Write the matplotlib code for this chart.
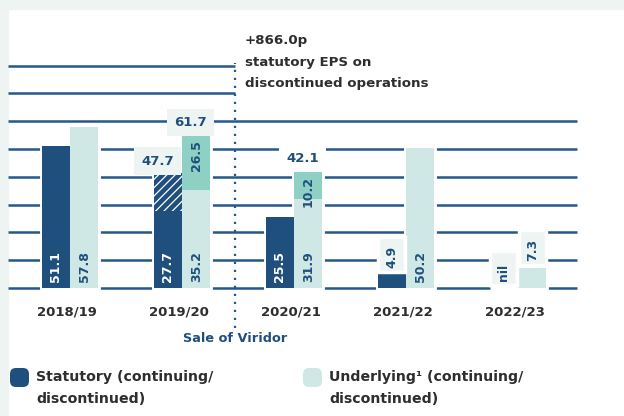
import matplotlib
matplotlib.use("Agg")
import matplotlib.pyplot as plt
from matplotlib.patches import Rectangle, FancyBboxPatch

# data
years = ["2018/19", "2019/20", "2020/21", "2021/22", "2022/23"]
statutory = [51.1, 27.7, 25.5, 4.9, 0.0]
statutory_disc = [0.0, 13.7, 0.0, 0.0, 0.0]      # hatched part, as drawn
underlying = [57.8, 35.2, 31.9, 50.2, 7.3]
underlying_disc = [0.0, 19.8, 10.2, 0.0, 0.0]    # teal part, as drawn
statutory_labels = ["51.1", "27.7", "25.5", "4.9", "nil"]
underlying_labels = ["57.8", "35.2", "31.9", "50.2", "7.3"]
underlying_disc_labels = ["", "26.5", "10.2", "", ""]
total_stat_labels = ["", "47.7", "", "", ""]
total_und_labels = ["", "61.7", "42.1", "", ""]
grid_levels = [0, 10, 20, 30, 40, 50, 60, 70, 80]

DARK = "#1f4f7c"
LIGHT = "#cfe8e5"
TEAL = "#8fd0c4"
BOXBG = "#eef4f1"
GRID = "#24588a"
TXT = "#2e2e2e"

plt.rcParams["font.family"] = "DejaVu Sans"
plt.rcParams["hatch.linewidth"] = 0.9

fig = plt.figure(figsize=(6.24, 4.16), dpi=100)
fig.patch.set_facecolor("white")
fig.patches.append(Rectangle((0, 407 / 416), 1, 9 / 416, transform=fig.transFigure,
                             color=BOXBG, zorder=-5))
fig.patches.append(Rectangle((0, 0), 8 / 624, 1, transform=fig.transFigure,
                             color=BOXBG, zorder=-5))

ax = fig.add_axes([0, 0, 1, 1])
ax.set_xlim(-0.625, 4.946)
ax.set_ylim(-46.0, 103.6)
ax.axis("off")

x_left, x_right, x_div = -0.554, 4.527, 1.473
for lv in grid_levels:
    end = x_right if lv <= 60 else x_div
    ax.hlines(lv, x_left, end, color=GRID, lw=1.8, zorder=1)

ax.vlines(x_div, -14.4, 80.9, color=GRID, lw=1.6, linestyles=(0, (1, 2.6)), zorder=1)

w = 0.254
xs = list(range(len(years)))
xs_s = [x - w / 2 for x in xs]
xs_u = [x + w / 2 for x in xs]

st_tot = [a + b for a, b in zip(statutory, statutory_disc)]
un_tot = [a + b for a, b in zip(underlying, underlying_disc)]

# white halos to break the gridlines around bars
ax.bar(xs_s, st_tot, w, color="white", edgecolor="white", lw=3.5, zorder=2)
ax.bar(xs_u, un_tot, w, color="white", edgecolor="white", lw=3.5, zorder=2)

ax.bar(xs_s, statutory, w, color=DARK, lw=0, zorder=3)
ax.bar(xs_s, statutory_disc, w, bottom=statutory, color=DARK, edgecolor="white",
       hatch="////", lw=0, zorder=3)
ax.bar(xs_u, underlying, w, color=LIGHT, lw=0, zorder=3)
ax.bar(xs_u, underlying_disc, w, bottom=underlying, color=TEAL, lw=0, zorder=3)

fs = 9


def small_label(xc, top, text):
    # label sitting in a pale box above a short bar
    b0 = top + 1.0
    h = 12.5
    ax.add_patch(Rectangle((xc - w * 0.47, b0), w * 0.94, h, fc=BOXBG, ec="white",
                           lw=2.5, zorder=4))
    ax.text(xc, b0 + 1.4, text, rotation=90, ha="center", va="bottom", color=DARK,
            fontsize=fs, fontweight="bold", zorder=5)


for i in xs:
    if statutory[i] > 15:
        ax.text(xs_s[i], 2.2, statutory_labels[i], rotation=90, ha="center", va="bottom",
                color="white", fontsize=fs, fontweight="bold", zorder=5)
    else:
        small_label(xs_s[i], st_tot[i], statutory_labels[i])
    if underlying[i] > 15:
        ax.text(xs_u[i], 2.2, underlying_labels[i], rotation=90, ha="center", va="bottom",
                color=DARK, fontsize=fs, fontweight="bold", zorder=5)
    else:
        small_label(xs_u[i], un_tot[i], underlying_labels[i])
    if underlying_disc_labels[i]:
        ax.text(xs_u[i], un_tot[i] - 1.8, underlying_disc_labels[i], rotation=90,
                ha="center", va="top", color=DARK, fontsize=fs, fontweight="bold", zorder=5)
    if total_stat_labels[i]:
        ax.text(xs_s[i] - 0.09, st_tot[i] + 4.3, total_stat_labels[i], ha="center",
                va="center", color=DARK, fontsize=fs + 0.5, fontweight="bold", zorder=5,
                bbox=dict(boxstyle="square,pad=0.55", fc=BOXBG, ec="none"))
    if total_und_labels[i]:
        fc = BOXBG if i == 1 else "white"
        ax.text(xs_u[i] - 0.05, un_tot[i] + 4.5, total_und_labels[i], ha="center",
                va="center", color=DARK, fontsize=fs + 0.5, fontweight="bold", zorder=5,
                bbox=dict(boxstyle="square,pad=0.55", fc=fc, ec="none"))
    ax.text(i - 0.03, -8.6, years[i], ha="center", va="center", color=TXT,
            fontsize=9.5, fontweight="bold")

ax.text(x_div, -18.0, "Sale of Viridor", ha="center", va="center", color=DARK,
        fontsize=9.3, fontweight="bold")

for k, line in enumerate(["+866.0p", "statutory EPS on", "discontinued operations"]):
    ax.text(1.56, 89.2 - k * 7.9, line, ha="left", va="center", color=TXT,
            fontsize=9.6, fontweight="bold")

# legend
legend_items = [(DARK, "Statutory (continuing/\ndiscontinued)", 0.10),
                (LIGHT, "Underlying\u00b9 (continuing/\ndiscontinued)", 3.03)]
for col, lab, x0 in legend_items:
    fig.patches.append(FancyBboxPatch((x0, 0.29), 0.19, 0.19,
                                      boxstyle="round,pad=0,rounding_size=0.06",
                                      transform=fig.dpi_scale_trans, fc=col, ec="none"))
    first, second = lab.split("\n")
    fig.text((x0 + 0.26) / 6.24, 0.385 / 4.16, first, ha="left",
             va="center", color=TXT, fontsize=10.2, fontweight="bold")
    fig.text((x0 + 0.26) / 6.24, 0.17 / 4.16, second, ha="left",
             va="center", color=TXT, fontsize=10.2, fontweight="bold")

fig.savefig("out.png", dpi=100)
